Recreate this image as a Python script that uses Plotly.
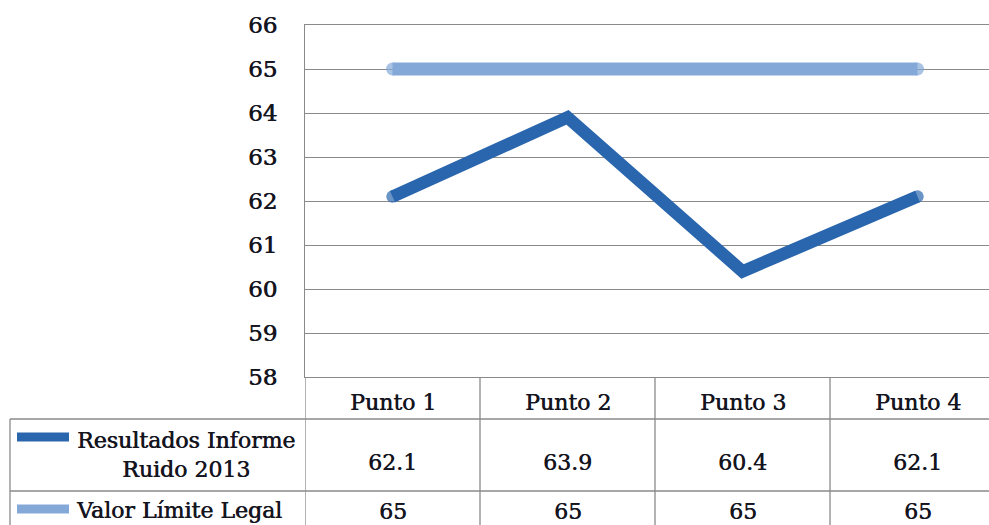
import plotly.graph_objects as go

categories = ["Punto 1", "Punto 2", "Punto 3", "Punto 4"]
resultados = [62.1, 63.9, 60.4, 62.1]
limite = [65, 65, 65, 65]
series_names = ["Resultados Informe<br>Ruido 2013", "Valor Límite Legal"]
y_ticks = [58, 59, 60, 61, 62, 63, 64, 65, 66]

W, H = 989, 525
dark = "#2a66ad"
light = "#84a9d8"
grid = "#8a8a8a"
font = "DejaVu Serif"
txt = "#15151f"
shadow = "0.6px 0 0 #15151f"

def py(px):
    return 1 - px / H

def pxx(px):
    return px / W

x_idx = list(range(len(categories)))
n = len(categories)
is_end = [i == 0 or i == n - 1 for i in range(n)]

fig = go.Figure()
fig.add_trace(go.Scatter(x=x_idx, y=limite, mode="lines+markers",
                         line=dict(color=light, width=13),
                         marker=dict(color=light, size=[13 if e else 0 for e in is_end], line=dict(width=0)),
                         showlegend=False, hoverinfo="skip"))
fig.add_trace(go.Scatter(x=x_idx, y=resultados, mode="lines+markers",
                         line=dict(color=dark, width=12.5),
                         marker=dict(color=dark, size=[12.5 if e else 0 for e in is_end], line=dict(width=0)),
                         showlegend=False, hoverinfo="skip"))

shapes = []
line_style = dict(color=grid, width=1.3)
for yy in [419, 491]:
    shapes.append(dict(type="line", xref="paper", yref="paper",
                       x0=pxx(10), x1=1, y0=py(yy), y1=py(yy), line=line_style))
shapes.append(dict(type="line", xref="paper", yref="paper",
                   x0=pxx(10), x1=pxx(10), y0=py(419), y1=0, line=line_style))
for k in range(n + 1):
    shapes.append(dict(type="line", xref="x", yref="paper",
                       x0=k - 0.5, x1=k - 0.5, y0=py(377), y1=0, line=line_style))
# legend keys
shapes.append(dict(type="line", xref="paper", yref="paper",
                   x0=pxx(17), x1=pxx(69), y0=py(437), y1=py(437),
                   line=dict(color=dark, width=9)))
shapes.append(dict(type="line", xref="paper", yref="paper",
                   x0=pxx(17), x1=pxx(69), y0=py(509), y1=py(509),
                   line=dict(color=light, width=9)))

tf = dict(family=font, size=22, color=txt, shadow=shadow)
annotations = []
for i, c in enumerate(categories):
    annotations.append(dict(x=i, y=py(402), xref="x", yref="paper", text=c,
                            xanchor="center", yanchor="middle", showarrow=False, font=tf))
    annotations.append(dict(x=i, y=py(462), xref="x", yref="paper", text=str(resultados[i]),
                            xanchor="center", yanchor="middle", showarrow=False, font=tf))
    annotations.append(dict(x=i, y=py(511), xref="x", yref="paper", text=str(limite[i]),
                            xanchor="center", yanchor="middle", showarrow=False, font=tf))
annotations.append(dict(x=pxx(186), y=py(455), xref="paper", yref="paper",
                        text=series_names[0], showarrow=False, align="center",
                        xanchor="center", yanchor="middle", font=tf))
annotations.append(dict(x=pxx(179), y=py(510), xref="paper", yref="paper",
                        text=series_names[1], showarrow=False, align="center",
                        xanchor="center", yanchor="middle", font=tf))

fig.update_layout(
    width=W, height=H,
    margin=dict(l=0, r=0, t=0, b=0, pad=0, autoexpand=False),
    paper_bgcolor="white", plot_bgcolor="white",
    showlegend=False,
    hovermode=False,
    shapes=shapes,
    annotations=annotations,
    xaxis=dict(domain=[305 / W, 1], range=[-0.5, -0.5 + (W - 305) / 175],
               showticklabels=False, showgrid=False, zeroline=False,
               showline=True, mirror=True, linecolor=grid, linewidth=1.3, ticks="",
               automargin=False),
    yaxis=dict(domain=[py(377), py(25)], range=[58, 66], tickvals=y_ticks,
               showgrid=True, gridcolor=grid, gridwidth=1.3, zeroline=False,
               showline=True, linecolor=grid, linewidth=1.3,
               ticks="", ticklabelstandoff=22, automargin=False,
               tickfont=dict(family=font, size=23, color=txt, shadow=shadow)),
)

fig.write_html(
    "out.html",
    config={"displayModeBar": False},
    post_script="document.body.style.margin='0';document.body.style.overflow='hidden';",
)
